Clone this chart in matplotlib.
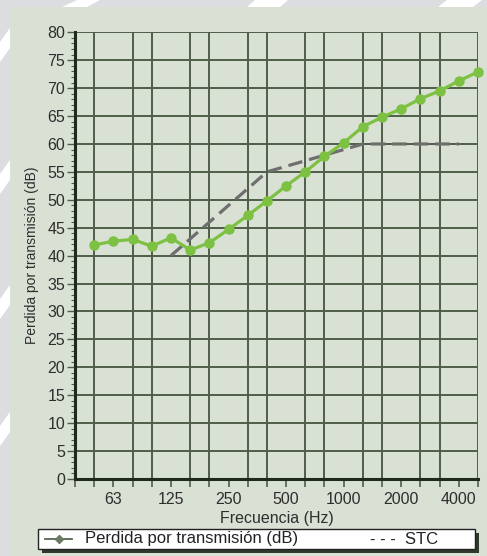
import numpy as np
import matplotlib
matplotlib.use('Agg')
import matplotlib.pyplot as plt
from matplotlib.patches import Rectangle, Polygon
from matplotlib.lines import Line2D
from matplotlib.ticker import FixedLocator, NullFormatter

plt.rcParams['font.family'] = ['Liberation Sans', 'DejaVu Sans']

# 1/3 octave bands, 50 Hz .. 5000 Hz
bands = ['50', '63', '80', '100', '125', '160', '200', '250', '315', '400', '500',
         '630', '800', '1000', '1250', '1600', '2000', '2500', '3150', '4000', '5000']
# transmission loss (dB) per band
tl = [41.9, 42.6, 42.9, 41.7, 43.2, 41.0, 42.3, 44.7, 47.2, 49.8, 52.5,
      55.0, 57.8, 60.2, 63.1, 64.8, 66.3, 68.1, 69.5, 71.3, 72.9]
# STC 56 reference contour, 125 Hz .. 4000 Hz
stc_bands = ['125', '160', '200', '250', '315', '400', '500', '630', '800', '1000',
             '1250', '1600', '2000', '2500', '3150', '4000']
stc = [40, 43, 46, 49, 52, 55, 56, 57, 58, 59, 60, 60, 60, 60, 60, 60]
label_bands = ['63', '125', '250', '500', '1000', '2000', '4000']

W, H = 487, 556
fig = plt.figure(figsize=(W / 100, H / 100), dpi=100)
fig.patch.set_facecolor('#dcdde0')

def pix(x, y):
    return (x / W, 1 - y / H)

# decorative white stripes on the grey frame
stripes = [
    [(77, 0), (100, 0), (87, 7), (62, 7)],
    [(255, 0), (288, 0), (280, 7), (247, 7)],
    [(447, 0), (482, 0), (473, 7), (438, 7)],
    [(10, 28), (10, 48), (0, 62), (0, 42)],
    [(10, 160), (10, 180), (0, 194), (0, 174)],
    [(10, 285), (10, 305), (0, 319), (0, 299)],
    [(10, 412), (10, 432), (0, 446), (0, 426)],
]
for s in stripes:
    fig.patches.append(Polygon([pix(*p) for p in s], closed=True, transform=fig.transFigure,
                               facecolor='white', edgecolor='none', zorder=0))
fig.patches.append(Rectangle(pix(10, 556), 477 / W, (556 - 7) / H, transform=fig.transFigure,
                             facecolor='#d9e0d4', edgecolor='none', zorder=1))

ax = fig.add_axes([75 / W, 1 - 479 / H, (478 - 75) / W, (479 - 32.3) / H])
ax.set_facecolor('none')
ax.set_zorder(2)

x = np.arange(1, len(bands) + 1)
pos = {b: i + 1 for i, b in enumerate(bands)}
stc_x = [pos[b] for b in stc_bands]

ax.plot(stc_x, stc, color='#6e6e6e', lw=2.3, dashes=(4.5, 2.2), zorder=3, clip_on=False)
ax.plot(x, tl, color='#7cc142', lw=2.3, marker='o', ms=6.5, mec='#7cc142', zorder=4, clip_on=False)

ax.set_xlim(0, 21)
ax.set_ylim(0, 80)

ax.xaxis.set_major_locator(FixedLocator([pos[b] for b in label_bands]))
ax.set_xticklabels(label_bands)
ax.xaxis.set_minor_locator(FixedLocator(np.arange(0, 22)))
ax.yaxis.set_major_locator(FixedLocator(np.arange(0, 81, 5)))
ax.yaxis.set_minor_locator(FixedLocator(np.arange(0, 81, 1)))
ax.yaxis.set_minor_formatter(NullFormatter())

gc = '#4f5e49'
ax.grid(True, which='minor', axis='x', color=gc, lw=1.4, zorder=1)
ax.grid(True, which='major', axis='y', color=gc, lw=1.4, zorder=1)
ax.set_axisbelow(True)

tc = '#2e2e2e'
ax.tick_params(axis='x', which='both', length=6, width=1.2, color=gc, direction='out',
               labelsize=11.5, labelcolor=tc, pad=3)
ax.tick_params(axis='y', which='major', length=6, width=1.0, color=gc, labelsize=11.5,
               labelcolor=tc, pad=1)
ax.tick_params(axis='y', which='minor', length=3, width=0.8, color=gc)

for s in ['top', 'right']:
    ax.spines[s].set_visible(False)
for s in ['left', 'bottom']:
    ax.spines[s].set_color('#1f2a1c')
    ax.spines[s].set_linewidth(2.2)
    ax.spines[s].set_zorder(5)

ax.set_ylabel('Perdida por transmisión (dB)', fontsize=10, color=tc, labelpad=6)
ax.set_xlabel('Frecuencia (Hz)', fontsize=11.5, color=tc, labelpad=3.5)

# legend box with shadow
lx0, ly0, lx1, ly1 = 38, 529, 475, 549
fig.patches.append(Rectangle(pix(lx0 + 4, ly1 + 4), (lx1 - lx0) / W, (ly1 - ly0) / H,
                             transform=fig.transFigure, facecolor='#2f3a2c', edgecolor='none', zorder=3))
fig.patches.append(Rectangle(pix(lx0, ly1), (lx1 - lx0) / W, (ly1 - ly0) / H,
                             transform=fig.transFigure, facecolor='white', edgecolor='#222222',
                             lw=1.0, zorder=4))
fig.lines.append(Line2D([45 / W, 72 / W], [1 - 539 / H] * 2, transform=fig.transFigure,
                        color='#55664f', lw=1.3, zorder=5))
fig.lines.append(Line2D([58.5 / W], [1 - 539 / H], transform=fig.transFigure, marker='D',
                        ms=4, color='#6b7a63', zorder=6))
fig.text(85 / W, 1 - 539 / H, 'Perdida por transmisión (dB)', fontsize=12, color='#222222',
         va='center', ha='left', zorder=6)
fig.text(370 / W, 1 - 539 / H, '- - -  STC', fontsize=12, color='#222222',
         va='center', ha='left', zorder=6)

fig.savefig('out.png', dpi=100, facecolor=fig.get_facecolor())
